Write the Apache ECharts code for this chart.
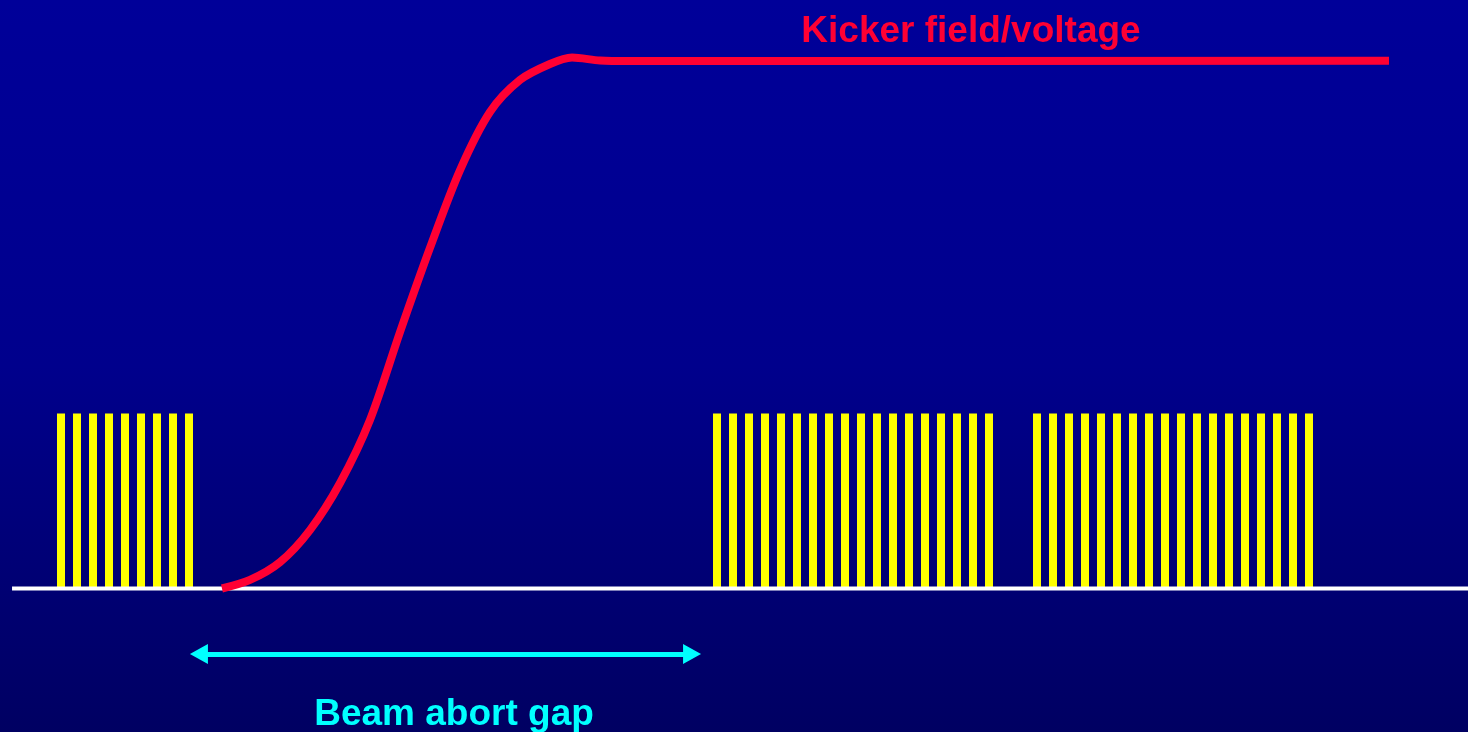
<!DOCTYPE html>
<html>
<head>
<meta charset="utf-8">
<title>Kicker field / beam abort gap</title>
<script src="https://cdn.jsdelivr.net/npm/echarts@6/dist/echarts.min.js"></script>
<style>
  html, body { margin: 0; padding: 0; background: #000080; }
  #chart { width: 1468px; height: 732px; }
</style>
</head>
<body>
<div id="chart"></div>
<script>
// bunch slots (1 slot = bunch spacing) that hold beam
const bunchSlots = [
  0, 1, 2, 3, 4, 5, 6, 7, 8,
  41, 42, 43, 44, 45, 46, 47, 48, 49, 50, 51, 52, 53, 54, 55, 56, 57, 58,
  61, 62, 63, 64, 65, 66, 67, 68, 69, 70, 71, 72, 73, 74, 75, 76, 77, 78
]
const bunchHeight = 1

// kicker field rise (slot, relative amplitude)
const kickerT = [10.06, 11.81, 13.69, 15.56, 17.44, 19.31, 21.19, 23.06, 24.94, 26.81, 28.69, 30.56, 31.94, 33.69, 35.56, 83.0]
const kickerV = [0, 0.049, 0.151, 0.334, 0.603, 0.963, 1.466, 1.946, 2.391, 2.723, 2.906, 2.997, 3.034, 3.017, 3.014, 3.016]

// abort gap arrow (symbol centres) and level
const gapStart = 8.62
const gapEnd = 39.44
const gapLevel = -0.374

// baseline extent
const baseStart = -3.06
const baseEnd = 88

const chart = echarts.init(document.getElementById('chart'))

const fontFamily = '"Liberation Sans", Arial, sans-serif'

chart.setOption({
  animation: false,
  backgroundColor: new echarts.graphic.LinearGradient(0, 0, 0, 1, [
    { offset: 0, color: '#000099' },
    { offset: 0.5, color: '#00008c' },
    { offset: 1, color: '#000062' },
  ]),
  grid: { left: 0, right: 0, top: 0, bottom: 0 },
  xAxis: {
    type: 'value',
    min: -3.8125,
    max: 87.9375,
    show: false,
  },
  yAxis: {
    type: 'value',
    min: -0.82,
    max: 3.363,
    show: false,
  },
  graphic: [
    {
      type: 'text',
      x: 971,
      y: 32,
      style: {
        text: 'Kicker field/voltage',
        fill: '#FF0033',
        font: 'bold 37px ' + fontFamily,
        textAlign: 'center',
        textVerticalAlign: 'middle',
      },
    },
    {
      type: 'text',
      x: 454,
      y: 715,
      style: {
        text: 'Beam abort gap',
        fill: '#00FFFF',
        font: 'bold 37px ' + fontFamily,
        textAlign: 'center',
        textVerticalAlign: 'middle',
      },
    },
  ],
  series: [
    {
      name: 'bunches',
      type: 'bar',
      barWidth: 8,
      itemStyle: { color: '#FFFF00' },
      data: bunchSlots.map(s => [s, bunchHeight]),
      z: 2,
    },
    {
      name: 'baseline',
      type: 'line',
      showSymbol: false,
      lineStyle: { color: '#FFFFFF', width: 4 },
      data: [[baseStart, 0], [baseEnd, 0]],
      z: 3,
      markLine: {
        silent: true,
        symbol: ['triangle', 'triangle'],
        symbolSize: [20, 18],
        label: { show: false },
        lineStyle: { color: '#00FFFF', width: 5, type: 'solid' },
        data: [[{ coord: [gapStart, gapLevel] }, { coord: [gapEnd, gapLevel] }]],
      },
    },
    {
      name: 'kicker',
      type: 'line',
      smooth: 0.3,
      showSymbol: false,
      lineStyle: { color: '#FF0033', width: 8, cap: 'butt' },
      data: kickerT.map((t, i) => [t, kickerV[i]]),
      z: 4,
    },
  ],
})

window.addEventListener('resize', () => chart.resize())
</script>
</body>
</html>
